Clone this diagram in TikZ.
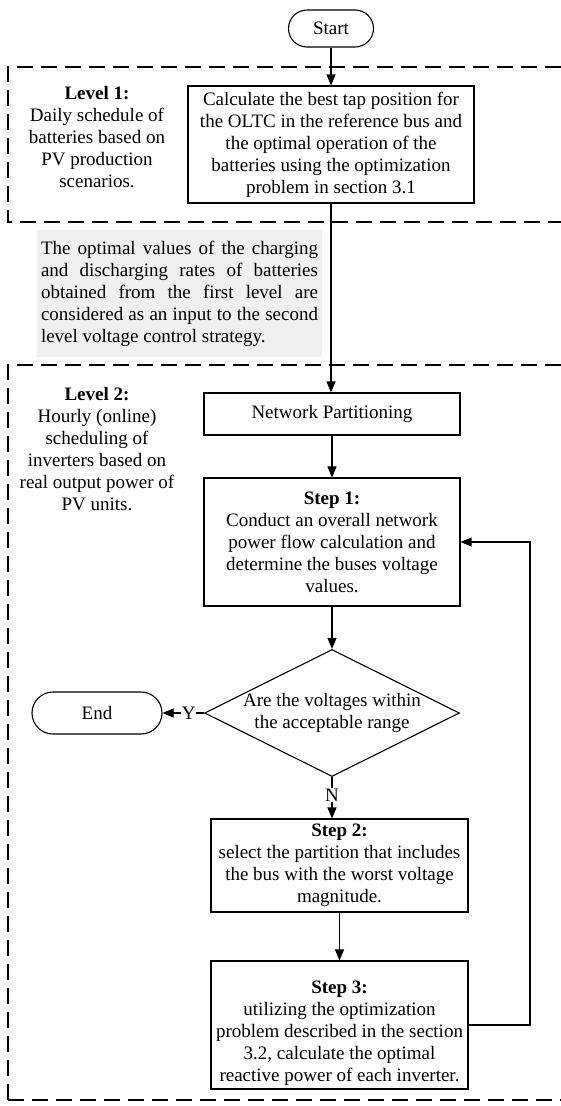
\documentclass[tikz,border=0pt]{standalone}
\usepackage{fontspec}
\setmainfont{Liberation Serif}
\usetikzlibrary{arrows.meta,shapes.geometric,shapes.misc}
\newcommand\fsz{\fontsize{19}{22}\selectfont}
\begin{document}
\begin{tikzpicture}[x=1pt,y=-1pt,
  every node/.style={font=\fsz},
  box/.style={draw, line width=1.1pt, inner sep=0pt, align=center},
  term/.style={draw, line width=1.1pt, rounded rectangle, inner sep=0pt},
  plain/.style={inner sep=0pt, align=center},
  arr/.style={line width=1.1pt, -{Triangle[length=11pt,width=9pt]}},
  frame/.style={line width=1.1pt, dash pattern=on 16pt off 8pt},
  lbl/.style={fill=white, inner sep=1pt}]
\useasboundingbox (0,0) rectangle (561,1106);

% frames
\draw[frame] (561,67) -- (8,67) -- (8,222) -- (561,222);
\draw[frame] (561,365) -- (8,365) -- (8,1100);
\draw[frame, line width=2pt] (8,1100) -- (561,1100);

% nodes
\node[term, minimum width=85pt, minimum height=37pt] (start) at (331,28.5) {Start};
\node[box, minimum width=286pt, minimum height=117pt] (calc) at (331,144.5)
  {Calculate the best tap position for\\the OLTC in the reference bus and\\the optimal operation of the\\batteries using the optimization\\problem in section 3.1};
\node[plain] (lev1) at (97,137)
  {\textbf{Level 1:}\\Daily schedule of\\batteries based on\\PV production\\scenarios.};
\node[fill=black!6, inner xsep=4pt, inner ysep=0pt, minimum width=285pt, minimum height=127pt, text width=277pt, align=justify] (note) at (179.5,293.5)
  {The optimal values of the charging\linebreak and discharging rates of batteries\linebreak obtained from the first level are\linebreak considered as an input to the second\linebreak level voltage control strategy.};
\node[plain] (lev2) at (97,449)
  {\textbf{Level 2:}\\Hourly (online)\\scheduling of\\inverters based on\\real output power of\\PV units.};
\node[box, minimum width=256pt, minimum height=42pt] (np) at (332,414) {Network Partitioning};
\node[box, minimum width=256pt, minimum height=128pt] (s1) at (332,542)
  {\textbf{Step 1:}\\Conduct an overall network\\power flow calculation and\\determine the buses voltage\\values.};
\node[draw, diamond, line width=1.1pt, inner sep=0pt, minimum width=255pt, minimum height=127pt] (dia) at (332,713) {};
\node[plain] (diatext) at (dia.center) {Are the voltages within\\the acceptable range};
\node[term, minimum width=130pt, minimum height=42pt] (end) at (97,713) {End};
\node[box, minimum width=257pt, minimum height=93pt] (s2) at (339.5,865.5)
  {\textbf{Step 2:}\\select the partition that includes\\the bus with the worst voltage\\magnitude.};
\node[box, minimum width=257pt, minimum height=128pt] (s3) at (339.5,1025)
  {\rule{0pt}{30pt}\textbf{Step 3:}\\utilizing the optimization\\problem described in the section\\3.2, calculate the optimal\\reactive power of each inverter.};
\coordinate (fb) at (530,800);

% connectors
\draw[arr] (start.south) -- (start.south |- calc.north);
\draw[arr] (calc.south) -- (calc.south |- np.north);
\draw[arr] (np.south) -- (s1.north);
\draw[arr] (s1.south) -- (dia.north);
\draw[arr] (dia.west) -- node[lbl, pos=0.37] {Y} (end.east);
\draw[arr] (dia.south) -- node[lbl, pos=0.44] {N} (dia.south |- s2.north);
\draw[arr] (s2.south) -- (s3.north);
\draw[arr] (s3.east) -| (fb) |- (s1.east);
\end{tikzpicture}
\end{document}
